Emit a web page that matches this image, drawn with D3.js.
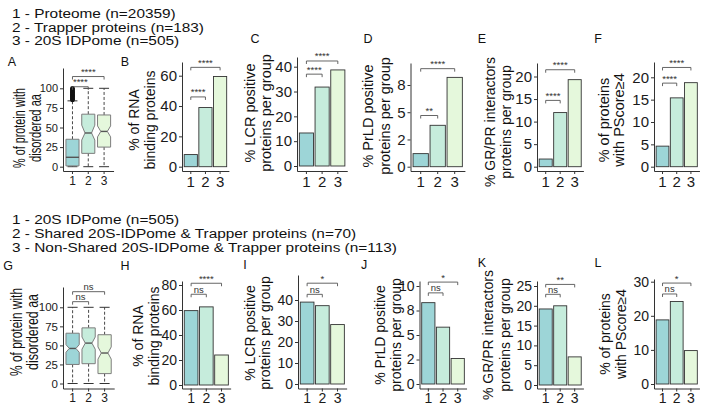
<!DOCTYPE html>
<html><head><meta charset="utf-8">
<script src="https://cdn.jsdelivr.net/npm/d3@7"></script>
<style>
body{margin:0;background:#fff}
svg{display:block}
text{font-family:"Liberation Sans", Arial, sans-serif}
</style>
</head><body>
<svg id="c" width="712" height="416"></svg>
<script>
// ---------------- DATA ----------------
const categories = ["1", "2", "3"];
const legendTop = ["1 - Proteome (n=20359)", "2 - Trapper proteins (n=183)", "3 - 20S IDPome (n=505)"];
const legendBottom = ["1 - 20S IDPome (n=505)", "2 - Shared 20S-IDPome & Trapper proteins (n=70)", "3 - Non-Shared 20S-IDPome & Trapper proteins (n=113)"];

// Panel A box plot (% disordered aa)
const boxA_lo = [0, 0, 0];
const boxA_q1 = [1, 17, 25];
const boxA_med = [12, 43, 45];
const boxA_q3 = [35, 67, 66];
const boxA_hi = [84, 100, 100];
const boxA_notchLo = [12, 34, 38];
const boxA_notchHi = [12, 53, 52];
const outliersA = [85, 86, 87, 88, 89, 90, 91, 92, 93, 94, 95, 96, 97, 98, 99, 100];

// Panel G box plot
const boxG_lo = [0, 0, 0];
const boxG_q1 = [25, 26, 13];
const boxG_med = [46, 53, 40];
const boxG_q3 = [66, 73, 64];
const boxG_hi = [100, 100, 100];
const boxG_notchLo = [41, 45, 32];
const boxG_notchHi = [51, 61, 48];

// Bar panels
const rnaTop = [8, 39, 59.5];
const lcrTop = [13.3, 31.8, 38.7];
const prldTop = [1.2, 3.8, 8.2];
const grprTop = [1.7, 12, 19.3];
const pscoreTop = [4.6, 15.4, 18.8];
const rnaBottom = [59.5, 62.5, 24];
const lcrBottom = [39, 37.3, 28.3];
const prldBottom = [8.3, 5.8, 2.6];
const grprBottom = [19.2, 20, 7.1];
const pscoreBottom = [18.8, 24.2, 9.8];

// Tick values and labels
const ticksA = [0, 25, 50, 75, 100];
const ticksB = [0, 20, 40, 60];
const ticksC = [0, 10, 20, 30, 40];
const ticksD = [0, 2.5, 5, 7.5];
const tickLabelsD = ["0", "2", "5", "8"];
const ticksE = [0, 5, 10, 15, 20];
const ticksF = [0, 5, 10, 15, 20];
const ticksG = [0, 25, 50, 75, 100];
const ticksH = [0, 20, 40, 60, 80];
const ticksI = [0, 10, 20, 30, 40];
const ticksJ = [0, 2.5, 5, 7.5, 10];
const tickLabelsJ = ["0", "2", "5", "8", "10"];
const ticksK = [0, 5, 10, 15, 20, 25];
const ticksL = [0, 10, 20, 30];

// Significance brackets: [from, to, label, height in data units]
const sigA = [["1", "2", "****", 102], ["1", "3", "****", 115]];
const sigB = [["1", "2", "****", 46], ["1", "3", "****", 65.5]];
const sigC = [["1", "2", "****", 37], ["1", "3", "****", 42.3]];
const sigD = [["1", "2", "**", 4.7], ["1", "3", "****", 9.0]];
const sigE = [["1", "2", "****", 14.7], ["1", "3", "****", 21.5]];
const sigF = [["1", "2", "****", 18.7], ["1", "3", "****", 22.2]];
const sigG = [["1", "2", "ns", 107.4], ["1", "3", "ns", 120.5]];
const sigH = [["1", "2", "ns", 72.6], ["1", "3", "****", 81.4]];
const sigI = [["1", "2", "ns", 42.7], ["1", "3", "*", 48]];
const sigJ = [["1", "2", "ns", 9.3], ["1", "3", "*", 10.4]];
const sigK = [["1", "2", "ns", 22.9], ["1", "3", "**", 25.4]];
const sigL = [["1", "2", "ns", 26.4], ["1", "3", "*", 29.6]];

// ---------------- DRAWING ----------------
const svg = d3.select("#c");
const palette = ["#9dd5d7", "#c6ecdc", "#e5f8dc"];
const FONT = '"Liberation Sans", Arial, sans-serif';

function legend(lines, x, y0, dy) {
  svg.append("g").attr("transform", `translate(${x},0) scale(1.14,1)`)
    .selectAll("text").data(lines).join("text")
    .attr("x", 0).attr("y", (d, i) => y0 + i * dy)
    .attr("font-size", 13.5).attr("fill", "#111").text(d => d);
}
legend(legendTop, 12, 18, 13.7);
legend(legendBottom, 12, 224, 14);

function panel(cfg) {
  const g = svg.append("g");
  const x = d3.scaleBand().domain(categories)
    .range([cfg.left, cfg.left + 3.2 * cfg.step]).paddingInner(0.1).paddingOuter(0.15);
  const yRef = d3.scaleLinear().domain([0, cfg.refVal]).range([cfg.zeroPx, cfg.refPx]);
  const y = d3.scaleLinear()
    .domain([yRef.invert(cfg.bottomPx), yRef.invert(cfg.topPx)])
    .range([cfg.bottomPx, cfg.topPx]);
  const cx = c => x(c) + x.bandwidth() / 2;

  // marks
  if (cfg.bars) {
    g.append("g").selectAll("rect").data(cfg.bars).join("rect")
      .attr("x", (d, i) => x(categories[i]))
      .attr("width", x.bandwidth())
      .attr("y", d => y(d))
      .attr("height", d => y(0) - y(d))
      .attr("fill", (d, i) => palette[i])
      .attr("stroke", "#333").attr("stroke-width", 0.9);
  }
  if (cfg.box) {
    const b = cfg.box;
    const w = x.bandwidth() * 0.92;
    categories.forEach((c, i) => {
      const xc = cx(c), L = xc - w / 2, R = xc + w / 2;
      const notched = b.nhi[i] - b.nlo[i] > 0.5;
      const q = v => y(v);
      [[b.q3[i], b.hi[i]], [b.q1[i], b.lo[i]]].forEach(([a, e]) => {
        g.append("line").attr("x1", xc).attr("x2", xc).attr("y1", q(a)).attr("y2", q(e))
          .attr("stroke", "#333").attr("stroke-width", 0.9).attr("stroke-dasharray", "3,2");
      });
      [b.hi[i], b.lo[i]].forEach(v => {
        g.append("line").attr("x1", xc - w * 0.38).attr("x2", xc + w * 0.38).attr("y1", q(v)).attr("y2", q(v))
          .attr("stroke", "#333").attr("stroke-width", 1);
      });
      let pts;
      if (notched) {
        pts = [[L, q(b.q1[i])], [L, q(b.nlo[i])], [xc - w / 4, q(b.med[i])], [L, q(b.nhi[i])], [L, q(b.q3[i])],
               [R, q(b.q3[i])], [R, q(b.nhi[i])], [xc + w / 4, q(b.med[i])], [R, q(b.nlo[i])], [R, q(b.q1[i])]];
      } else {
        pts = [[L, q(b.q1[i])], [L, q(b.q3[i])], [R, q(b.q3[i])], [R, q(b.q1[i])]];
      }
      g.append("path").attr("d", d3.line()(pts) + "Z")
        .attr("fill", palette[i]).attr("stroke", "#7d7d7d").attr("stroke-width", 1);
      const mh = notched ? w / 4 : w / 2;
      g.append("line").attr("x1", xc - mh).attr("x2", xc + mh).attr("y1", q(b.med[i])).attr("y2", q(b.med[i]))
        .attr("stroke", "#555").attr("stroke-width", 1.4);
    });
    if (b.outliers) {
      g.append("g").selectAll("circle").data(b.outliers).join("circle")
        .attr("cx", cx(categories[0])).attr("cy", d => y(d)).attr("r", 2.3).attr("fill", "#111");
    }
  }

  // axes
  const ay = g.append("g").attr("transform", `translate(${cfg.left},0)`)
    .call(d3.axisLeft(y).tickValues(cfg.ticks)
      .tickFormat((d, i) => cfg.tickLabels ? cfg.tickLabels[i] : d3.format("d")(d))
      .tickSizeInner(3).tickSizeOuter(0).tickPadding(2));
  const ax = g.append("g").attr("transform", `translate(0,${cfg.bottomPx})`)
    .call(d3.axisBottom(x).tickSizeInner(3).tickSizeOuter(0).tickPadding(2));
  [ay, ax].forEach(a => {
    a.attr("font-family", FONT).attr("font-size", cfg.tickFont);
    a.selectAll("path, line").attr("stroke", "#333");
    a.selectAll("text").attr("fill", "#1a1a1a");
  });
  ax.attr("font-size", cfg.xTickFont || cfg.tickFont);

  // significance brackets
  cfg.sig.forEach(s => {
    const x1 = cx(s[0]), x2 = cx(s[1]), yy = y(s[3]);
    g.append("path").attr("d", `M${x1},${yy + 3}V${yy}H${x2}V${yy + 3}`)
      .attr("fill", "none").attr("stroke", "#555").attr("stroke-width", 0.9);
    g.append("text").attr("x", (x1 + x2) / 2).attr("y", yy - 1.5)
      .attr("text-anchor", "middle").attr("font-size", 9.5)
      .attr("fill", "#333").text(s[2]);
  });

  // y label
  cfg.label.forEach((t, i) => {
    const tx = g.append("text")
      .attr("transform", `translate(${cfg.labelX[i]},${cfg.labelY}) rotate(-90)`)
      .attr("text-anchor", "middle").attr("dominant-baseline", "central")
      .attr("font-size", cfg.labelFont).attr("fill", "#111").text(t);
    if (cfg.labelLen) tx.attr("textLength", cfg.labelLen[i]).attr("lengthAdjust", "spacingAndGlyphs");
  });

  // panel letter
  g.append("text").attr("x", cfg.letterPos[0]).attr("y", cfg.letterPos[1])
    .attr("text-anchor", "middle").attr("dominant-baseline", "central")
    .attr("font-size", 12.5).attr("fill", "#111").text(cfg.letter);
}

const labDis = ["% of protein with", "disordered aa"];
const labRna = ["% of RNA", "binding proteins"];
const labLcr = ["% LCR positive", "proteins per group"];
const labPrld = ["% PrLD positive", "proteins per group"];
const labGr = ["% GR/PR interactors", "proteins per group"];
const labPs = ["% of proteins", "with PScore\u22654"];

const TB = 171, BB = 388.5;
panel({letter: "A", letterPos: [12, 62], left: 63, step: 15.8, zeroPx: 166.7, refVal: 100, refPx: 88.3, topPx: 68, bottomPx: TB,
  ticks: ticksA, tickFont: 11, xTickFont: 12, sig: sigA,
  box: {lo: boxA_lo, q1: boxA_q1, med: boxA_med, q3: boxA_q3, hi: boxA_hi, nlo: boxA_notchLo, nhi: boxA_notchHi, outliers: outliersA},
  label: labDis, labelX: [19, 35], labelY: 128, labelFont: 16, labelLen: [80, 68]});
panel({letter: "B", letterPos: [125, 62], left: 182, step: 14.65, zeroPx: 166.7, refVal: 60, refPx: 75.7, topPx: 62, bottomPx: TB,
  ticks: ticksB, tickFont: 15, sig: sigB, bars: rnaTop,
  label: labRna, labelX: [134, 150], labelY: 120, labelFont: 14});
panel({letter: "C", letterPos: [255, 39], left: 297, step: 15.7, zeroPx: 166, refVal: 40, refPx: 66.7, topPx: 57, bottomPx: TB,
  ticks: ticksC, tickFont: 15, sig: sigC, bars: lcrTop,
  label: labLcr, labelX: [250, 266], labelY: 113, labelFont: 14.5});
panel({letter: "D", letterPos: [368, 39], left: 410.5, step: 17, zeroPx: 166.7, refVal: 7.5, refPx: 85, topPx: 63, bottomPx: TB,
  ticks: ticksD, tickLabels: tickLabelsD, tickFont: 15, sig: sigD, bars: prldTop,
  label: labPrld, labelX: [368, 385], labelY: 116, labelFont: 14.5});
panel({letter: "E", letterPos: [482, 39], left: 537, step: 14.5, zeroPx: 166.7, refVal: 20, refPx: 76.5, topPx: 63, bottomPx: TB,
  ticks: ticksE, tickFont: 15, sig: sigE, bars: grprTop,
  label: labGr, labelX: [490, 506], labelY: 122, labelFont: 14});
panel({letter: "F", letterPos: [598, 39], left: 654, step: 14.2, zeroPx: 166.7, refVal: 20, refPx: 77.3, topPx: 62, bottomPx: TB,
  ticks: ticksF, tickFont: 15, sig: sigF, bars: pscoreTop,
  label: labPs, labelX: [604, 619], labelY: 120, labelFont: 14.5});

panel({letter: "G", letterPos: [8, 266], left: 63, step: 16, zeroPx: 383.5, refVal: 100, refPx: 307.3, topPx: 287, bottomPx: BB,
  ticks: ticksG, tickFont: 11.5, xTickFont: 12, sig: sigG,
  box: {lo: boxG_lo, q1: boxG_q1, med: boxG_med, q3: boxG_q3, hi: boxG_hi, nlo: boxG_notchLo, nhi: boxG_notchHi},
  label: labDis, labelX: [16, 32], labelY: 332, labelFont: 16, labelLen: [88, 76]});
panel({letter: "H", letterPos: [125, 266], left: 182, step: 15.2, zeroPx: 385, refVal: 80, refPx: 285, topPx: 281, bottomPx: BB,
  ticks: ticksH, tickFont: 14, sig: sigH, bars: rnaBottom,
  label: labRna, labelX: [138, 154], labelY: 336, labelFont: 14});
panel({letter: "I", letterPos: [245, 265], left: 298, step: 15.2, zeroPx: 384, refVal: 40, refPx: 300, topPx: 275, bottomPx: BB,
  ticks: ticksI, tickFont: 14, sig: sigI, bars: lcrBottom,
  label: labLcr, labelX: [250, 265], labelY: 333, labelFont: 14});
panel({letter: "J", letterPos: [364, 265], left: 419.5, step: 14.7, zeroPx: 384, refVal: 10, refPx: 286, topPx: 281, bottomPx: BB,
  ticks: ticksJ, tickLabels: tickLabelsJ, tickFont: 14, sig: sigJ, bars: prldBottom,
  label: labPrld, labelX: [380, 396], labelY: 335, labelFont: 14});
panel({letter: "K", letterPos: [482, 263], left: 537, step: 14.5, zeroPx: 385, refVal: 25, refPx: 286, topPx: 281, bottomPx: BB,
  ticks: ticksK, tickFont: 14, sig: sigK, bars: grprBottom,
  label: labGr, labelX: [488, 505], labelY: 335, labelFont: 14});
panel({letter: "L", letterPos: [598, 263], left: 654, step: 14.2, zeroPx: 384, refVal: 30, refPx: 281.7, topPx: 279, bottomPx: BB,
  ticks: ticksL, tickFont: 14, sig: sigL, bars: pscoreBottom,
  label: labPs, labelX: [605, 621], labelY: 334, labelFont: 14});
</script>
</body></html>
